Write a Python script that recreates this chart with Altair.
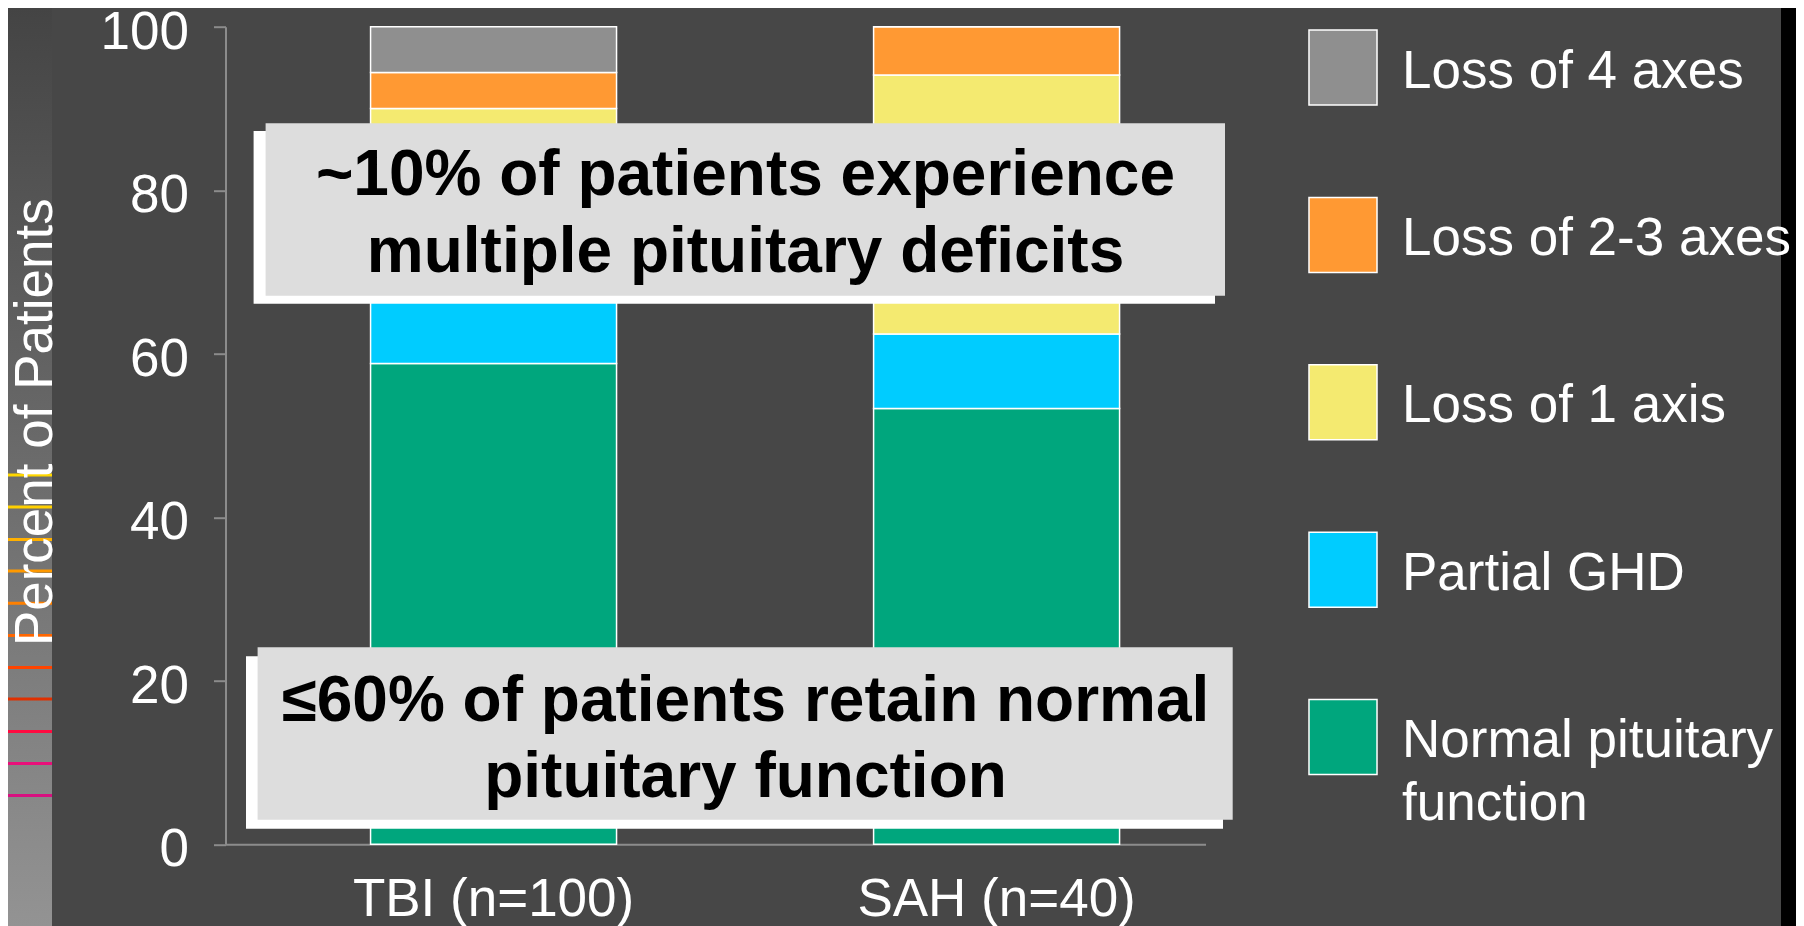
import altair as alt
import pandas as pd

FONT = "Liberation Sans"

# ---- data ----
groups = ["TBI (n=100)", "SAH (n=40)"]
categories = ["Normal pituitary function", "Partial GHD", "Loss of 1 axis",
              "Loss of 2-3 axes", "Loss of 4 axes"]
tbi_values = [58.8, 10.2, 21.0, 4.4, 5.6]
sah_values = [53.3, 9.1, 31.7, 5.9, 0.0]
colors = ["#00A67D", "#00CCFF", "#F4EA70", "#FF9933", "#8F8F8F"]
legend_order = ["Loss of 4 axes", "Loss of 2-3 axes", "Loss of 1 axis",
                "Partial GHD", "Normal pituitary function"]
legend_labels = ["Loss of 4 axes", "Loss of 2-3 axes", "Loss of 1 axis",
                 "Partial GHD", "Normal pituitary\nfunction"]
y_ticks = [0, 20, 40, 60, 80, 100]
notes = ["~10% of patients experience\nmultiple pituitary deficits",
         "\u226460% of patients retain normal\npituitary function"]
stripe_colors = ["#FFD700", "#FFD000", "#FFB000", "#FF9900", "#FF8000",
                 "#FF6600", "#FF4400", "#E03000", "#FF0A40", "#E8107A", "#D81080"]

rows = []
for g, vals in zip(groups, [tbi_values, sah_values]):
    for i, (c, v) in enumerate(zip(categories, vals)):
        rows.append({"group": g, "category": c, "rank": i, "value": v})
df = pd.DataFrame(rows)

AX = "#8C8C8C"
color_scale = alt.Scale(domain=categories, range=colors)
one = pd.DataFrame({"k": [0]})

layers = []

# ---- decorative slide strips ----
layers.append(
    alt.Chart(one).mark_rect(
        color=alt.LinearGradient(
            gradient="linear", x1=0, y1=0, x2=0, y2=1,
            stops=[alt.GradientStop(offset=0, color="#444444"),
                   alt.GradientStop(offset=1, color="#939393")]))
    .encode(x=alt.value(-217.5), x2=alt.value(-173.5),
            y=alt.value(-18.7), y2=alt.value(899.3))
)
stripe_y = [475, 507, 539.5, 571, 603.3, 635.5, 667.5, 699, 731.5, 763.5, 795.5]
for yy, cc in zip(stripe_y, stripe_colors):
    layers.append(
        alt.Chart(one).mark_rule(color=cc, strokeWidth=3)
        .encode(x=alt.value(-217.5), x2=alt.value(-173.5), y=alt.value(yy - 26.7))
    )
layers.append(
    alt.Chart(one).mark_rect(color="black")
    .encode(x=alt.value(1555.5), x2=alt.value(1570.5),
            y=alt.value(-18.7), y2=alt.value(899.3))
)

# ---- bars ----
bars = alt.Chart(df).mark_bar(stroke="white", strokeWidth=1.5).encode(
    x=alt.X("group:N", sort=groups,
            scale=alt.Scale(domain=groups, paddingInner=0.511,
                            paddingOuter=0.2296, align=0.628),
            axis=alt.Axis(title=None, labelColor="white", labelFontSize=53,
                          labelFont=FONT, labelPadding=29, ticks=False,
                          labelAngle=0, labelLimit=0, domainColor=AX,
                          domainWidth=2)),
    y=alt.Y("value:Q", stack="zero",
            scale=alt.Scale(domain=[0, 100], nice=False),
            axis=alt.Axis(values=y_ticks, grid=False, title="Percent of Patients",
                          domainColor=AX, domainWidth=2, tickColor=AX,
                          tickWidth=2, tickSize=12, labelColor="white",
                          labelFontSize=53, labelFont=FONT, labelPadding=25,
                          labelBaseline="alphabetic", labelOffset=21.5,
                          titleColor="white", titleFontSize=53, titleFont=FONT,
                          titleFontWeight="normal", titleAngle=270,
                          titleBaseline="alphabetic", titleAlign="center",
                          titleX=-174, titleY=395, titleLimit=0, zindex=1)),
    color=alt.Color("category:N", scale=color_scale, legend=None),
    order=alt.Order("rank:Q", sort="ascending"),
)
layers.append(bars)

# ---- annotation boxes ----
box_specs = [
    # (x1, x2 px, y top, y bottom in percent, fill)
    (28.1, 989.5, 87.25, 66.1, "white"),
    (40.1, 999.5, 88.2, 67.1, "#DDDDDD"),
    (20.5, 997.5, 23.0, 1.9, "white"),
    (32.1, 1007.2, 24.1, 3.0, "#DDDDDD"),
]
for x1, x2, yt, yb, fill in box_specs:
    layers.append(
        alt.Chart(one).mark_rect(color=fill)
        .encode(x=alt.value(x1), x2=alt.value(x2),
                y=alt.Y(datum=yt), y2=alt.Y2(datum=yb))
    )
for note, yb in zip(notes, [79.38, 15.14]):
    layers.append(
        alt.Chart(one).mark_text(text=note, lineBreak="\n", lineHeight=76.5,
                                 font=FONT, fontSize=64, fontWeight="bold",
                                 color="black", align="center",
                                 baseline="alphabetic")
        .encode(x=alt.value(520), y=alt.Y(datum=yb))
    )

# ---- legend ----
for i, (cat, lab) in enumerate(zip(legend_order, legend_labels)):
    yc = 40.8 + i * 167.4
    layers.append(
        alt.Chart(pd.DataFrame({"category": [cat]})).mark_point(
            shape="M-0.907,-1H0.907V1H-0.907Z", size=5625, filled=True,
            opacity=1, stroke="white", strokeWidth=1.5)
        .encode(x=alt.value(1117.5), y=alt.value(yc),
                color=alt.Color("category:N", scale=color_scale, legend=None))
    )
    layers.append(
        alt.Chart(one).mark_text(text=lab, lineBreak="\n", lineHeight=63,
                                 font=FONT, fontSize=53, color="white",
                                 align="left", baseline="alphabetic", dy=20)
        .encode(x=alt.value(1176.5), y=alt.value(yc))
    )

chart = alt.layer(*layers).properties(
    width=980, height=817.6,
    autosize=alt.AutoSizeParams(type="none"),
    padding={"left": 217.5, "top": 18.7, "right": 590.5, "bottom": 81.7},
    background="#474747",
).configure_view(stroke=None)

chart.save("out.html", embed_options={"renderer": "svg", "actions": False})
